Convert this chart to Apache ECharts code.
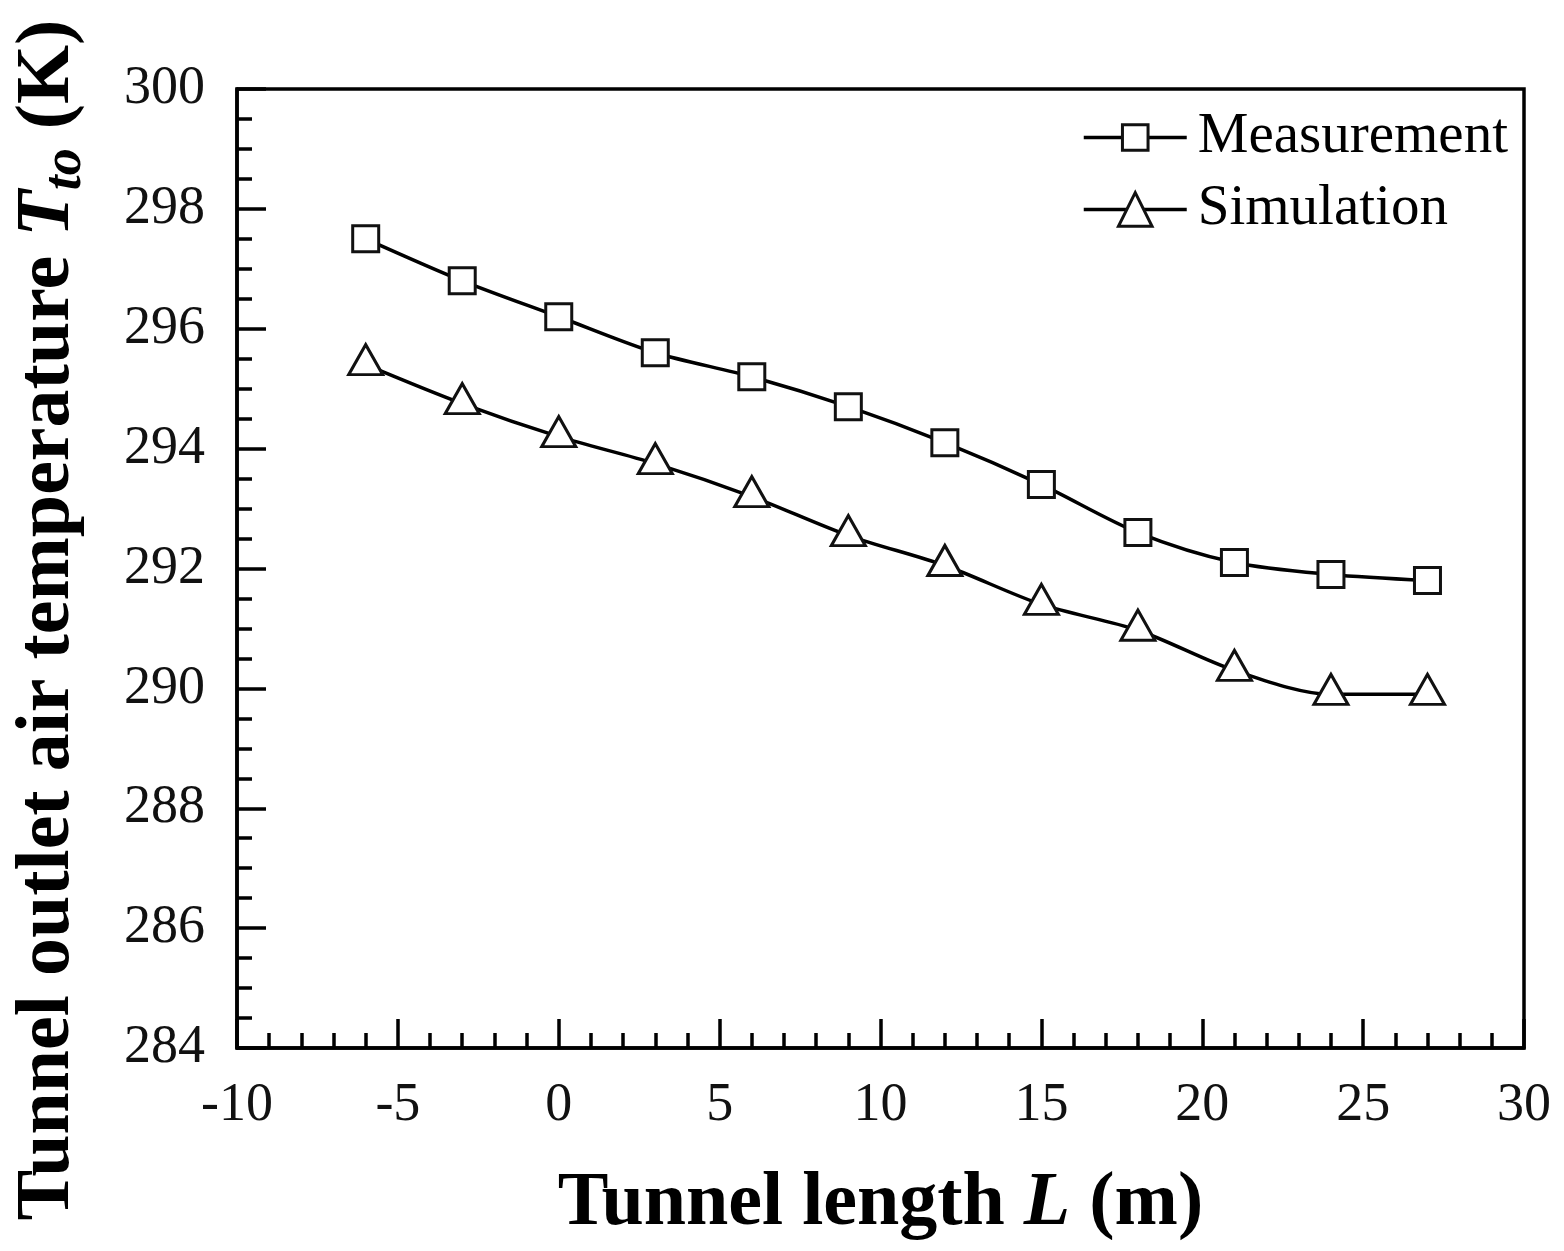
<!DOCTYPE html>
<html>
<head>
<meta charset="utf-8">
<title>Tunnel outlet air temperature</title>
<script src="https://cdn.jsdelivr.net/npm/echarts@6/dist/echarts.min.js"></script>
<style>
  html, body { margin: 0; padding: 0; background: #fff; }
  #chart { width: 1564px; height: 1251px; }
</style>
</head>
<body>
<div id="chart"></div>
<script>
// Tunnel length positions (m)
const tunnelLength = [-6, -3, 0, 3, 6, 9, 12, 15, 18, 21, 24, 27];
// Outlet air temperature (K)
const measurement = [297.5, 296.8, 296.2, 295.6, 295.2, 294.7, 294.1, 293.4, 292.6, 292.1, 291.9, 291.8];
const simulation  = [295.4, 294.75, 294.2, 293.75, 293.2, 292.55, 292.05, 291.4, 290.97, 290.3, 289.9, 289.9];

const xTicks = { min: -10, max: 30, step: 5 };
const yTicks = { min: 284, max: 300, step: 2 };

const serif = '"Liberation Serif", "Times New Roman", serif';

function pairs(xs, ys) {
  return xs.map((x, i) => [x, ys[i]]);
}

const chart = echarts.init(document.getElementById('chart'), null, { renderer: 'canvas' });

const axisCommon = {
  type: 'value',
  axisLine: { show: true, onZero: false, lineStyle: { color: '#000', width: 3.5 } },
  axisTick: { show: true, inside: true, length: 29, lineStyle: { color: '#000', width: 3.5 } },
  minorTick: { show: true, length: 15, lineStyle: { color: '#000', width: 3.5 } },
  splitLine: { show: false },
  axisLabel: { color: '#111', fontFamily: serif, fontSize: 54 }
};

const legendCommon = {
  left: 1082,
  padding: 0,
  itemWidth: 103, itemGap: 0,
  lineStyle: { color: '#000', width: 3.5 },
  itemStyle: { color: '#fff', borderColor: '#111', borderWidth: 3 },
  textStyle: { fontFamily: serif, fontSize: 57, color: '#000', lineHeight: 56, padding: [0, 0, 0, 6] }
};

chart.setOption({
  backgroundColor: '#fff',
  animation: false,
  grid: {
    left: 237, right: 40, top: 89, bottom: 203,
    show: true, borderColor: '#000', borderWidth: 3.5, backgroundColor: 'transparent'
  },
  xAxis: Object.assign({}, axisCommon, {
    min: xTicks.min, max: xTicks.max, interval: xTicks.step,
    minorTick: Object.assign({}, axisCommon.minorTick, { splitNumber: 5 }),
    axisLabel: Object.assign({}, axisCommon.axisLabel, { margin: 31 }),
    name: '{b|Tunnel length }{i|L}{b| (m)}',
    nameLocation: 'middle',
    nameGap: 118,
    nameTextStyle: {
      rich: {
        b: { fontFamily: serif, fontSize: 76, fontWeight: 'bold', color: '#000' },
        i: { fontFamily: serif, fontSize: 76, fontWeight: 'bold', fontStyle: 'italic', color: '#000' }
      }
    }
  }),
  yAxis: Object.assign({}, axisCommon, {
    min: yTicks.min, max: yTicks.max, interval: yTicks.step,
    minorTick: Object.assign({}, axisCommon.minorTick, { splitNumber: 4 }),
    axisLabel: Object.assign({}, axisCommon.axisLabel, { margin: 32 })
  }),
  graphic: [{
    type: 'text',
    x: 48,
    y: 620,
    rotation: Math.PI / 2,
    style: {
      text: '{b|Tunnel outlet air temperature }{i|T}{s|to}{b| (K)}',
      align: 'center',
      verticalAlign: 'middle',
      rich: {
        b: { fontFamily: serif, fontSize: 76, fontWeight: 'bold', fill: '#000', lineHeight: 90, verticalAlign: 'middle' },
        i: { fontFamily: serif, fontSize: 76, fontWeight: 'bold', fontStyle: 'italic', fill: '#000', lineHeight: 90, verticalAlign: 'middle' },
        s: { fontFamily: serif, fontSize: 54, fontWeight: 'bold', fontStyle: 'italic', fill: '#000', lineHeight: 58, verticalAlign: 'bottom' }
      }
    }
  }],
  legend: [
    Object.assign({}, legendCommon, { data: ['Measurement'], top: 109, itemHeight: 32 }),
    Object.assign({}, legendCommon, { data: ['Simulation'], top: 181, itemHeight: 42 })
  ],
  series: [{
    name: 'Measurement',
    type: 'line',
    data: pairs(tunnelLength, measurement),
    smooth: 0.3,
    symbol: 'rect',
    symbolSize: 26,
    showAllSymbol: true,
    lineStyle: { color: '#000', width: 3.5 },
    itemStyle: { color: '#fff', borderColor: '#111', borderWidth: 3 },
    z: 3
  }, {
    name: 'Simulation',
    type: 'line',
    data: pairs(tunnelLength, simulation),
    smooth: 0.3,
    symbol: 'triangle',
    symbolSize: [34, 30],
    symbolOffset: [0, -5],
    showAllSymbol: true,
    lineStyle: { color: '#000', width: 3.5 },
    itemStyle: { color: '#fff', borderColor: '#111', borderWidth: 3 },
    z: 3
  }]
});
</script>
</body>
</html>
